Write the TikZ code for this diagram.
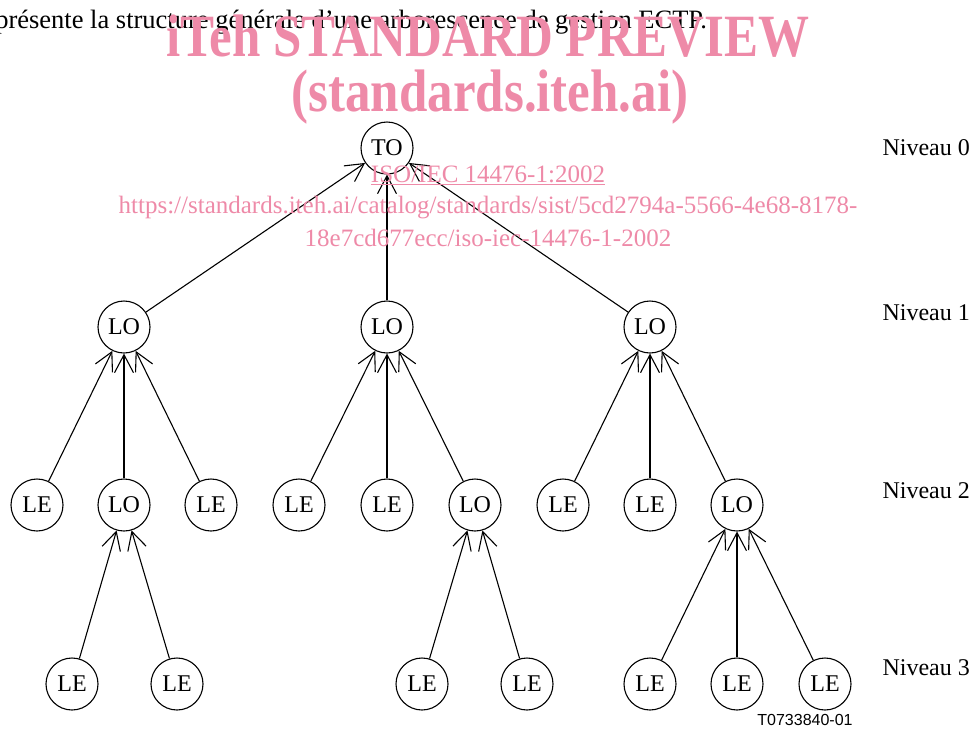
\documentclass[tikz,border=0pt]{standalone}
\usepackage{fontspec}
\setmainfont{Liberation Serif}
\setsansfont{Liberation Sans}
\usetikzlibrary{arrows.meta}
\definecolor{wmpink}{RGB}{238,138,168}
\tikzset{
  ent/.style={circle,draw,line width=1.1pt,minimum size=52pt,inner sep=0pt,
    font=\fontsize{24}{26}\selectfont},
  link/.style={line width=1.1pt,-{Straight Barb[length=18pt,width=19pt,line width=1.1pt]}},
  lvl/.style={anchor=west,font=\fontsize{24}{26}\selectfont},
  wmbig/.style={text=wmpink,font=\fontsize{60}{60}\bfseries\selectfont},
  wmsmall/.style={text=wmpink,font=\fontsize{25}{27}\selectfont}
}
\begin{document}
\begin{tikzpicture}[x=1pt,y=-1pt]
\useasboundingbox (0,0) rectangle (970,729);

% introductory sentence
\node[anchor=base east,inner sep=0pt,font=\fontsize{26.5}{28}\selectfont] (intro) at (707,28)
  {présente la structure générale d{\char"0027}une arborescence de gestion ECTP.};

% level 0
\node[ent] (to) at (387,148) {TO};
% level 1
\node[ent] (loA) at (124,327) {LO};
\node[ent] (loB) at (387,327) {LO};
\node[ent] (loC) at (650,327) {LO};
% level 2
\node[ent] (a1) at (37,505) {LE};
\node[ent] (a2) at (124,505) {LO};
\node[ent] (a3) at (211,505) {LE};
\node[ent] (b1) at (299,505) {LE};
\node[ent] (b2) at (387,505) {LE};
\node[ent] (b3) at (475,505) {LO};
\node[ent] (c1) at (563,505) {LE};
\node[ent] (c2) at (650,505) {LE};
\node[ent] (c3) at (737,505) {LO};
% level 3
\node[ent] (a21) at (72,684) {LE};
\node[ent] (a22) at (177,684) {LE};
\node[ent] (b31) at (422,684) {LE};
\node[ent] (b32) at (527,684) {LE};
\node[ent] (c31) at (650,684) {LE};
\node[ent] (c32) at (737,684) {LE};
\node[ent] (c33) at (825,684) {LE};

% connectors, child to parent
\foreach \c in {loA,loB,loC} \draw[link] (\c) -- (to);
\foreach \c in {a1,a2,a3} \draw[link] (\c) -- (loA);
\foreach \c in {b1,b2,b3} \draw[link] (\c) -- (loB);
\foreach \c in {c1,c2,c3} \draw[link] (\c) -- (loC);
\foreach \c in {a21,a22} \draw[link] (\c) -- (a2);
\foreach \c in {b31,b32} \draw[link] (\c) -- (b3);
\foreach \c in {c31,c32,c33} \draw[link] (\c) -- (c3);

% level labels
\node[lvl] (n0) at (879,148) {Niveau 0};
\node[lvl] (n1) at (879,313) {Niveau 1};
\node[lvl] (n2) at (879,491) {Niveau 2};
\node[lvl] (n3) at (879,668) {Niveau 3};

% figure reference
\node[font=\sffamily\fontsize{16}{18}\selectfont] (ref) at (805,720) {T0733840-01};

% overlay text
\node[wmbig,xscale=0.85] (wm1) at (488,36) {iTeh STANDARD PREVIEW};
\node[wmbig,xscale=0.85] (wm2) at (490,97) {(standards.iteh.ai)};
\node[wmsmall] (wm3) at (488,175) {\underline{ISO/IEC 14476-1:2002}};
\node[wmsmall] (wm4) at (488,208) {https://standards.iteh.ai/catalog/standards/sist/5cd2794a-5566-4e68-8178-};
\node[wmsmall] (wm5) at (488,238) {18e7cd677ecc/iso-iec-14476-1-2002};
\end{tikzpicture}
\end{document}
